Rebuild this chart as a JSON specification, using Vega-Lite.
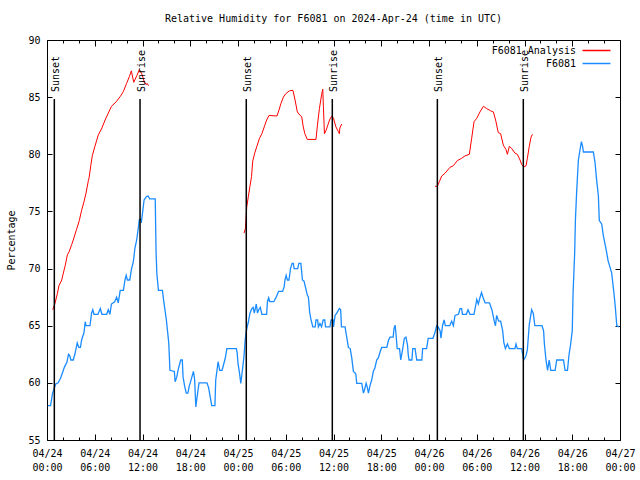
{
  "$schema": "https://vega.github.io/schema/vega-lite/v6.json",
  "width": 573,
  "height": 400,
  "autosize": {"type": "none"},
  "padding": {"left": 47, "top": 40, "right": 20, "bottom": 40},
  "background": "white",
  "config": {
    "font": "DejaVu Sans Mono",
    "view": {"stroke": "black", "strokeWidth": 1},
    "axis": {"grid": false, "domain": false, "tickColor": "black", "tickWidth": 1, "labelColor": "black", "labelFont": "DejaVu Sans Mono", "labelFontSize": 10, "titleFont": "DejaVu Sans Mono", "titleFontSize": 10, "titleFontWeight": "normal", "titleColor": "black"}
  },
  "title": {"text": "Relative Humidity for F6081 on 2024-Apr-24 (time in UTC)", "font": "DejaVu Sans Mono", "fontSize": 10, "fontWeight": "normal", "color": "black", "anchor": "middle", "offset": 11},
  "datasets": {
    "obs": [
      {"series":"F6081","hour":0.1,"rh":58},{"series":"F6081","hour":0.45,"rh":58},{"series":"F6081","hour":0.7,"rh":59.1},{"series":"F6081","hour":0.85,"rh":59.4},{"series":"F6081","hour":1.1,"rh":59.9},{"series":"F6081","hour":1.4,"rh":60},{"series":"F6081","hour":1.7,"rh":60.4},{"series":"F6081","hour":2.0,"rh":61},{"series":"F6081","hour":2.2,"rh":61.4},{"series":"F6081","hour":2.5,"rh":61.8},{"series":"F6081","hour":2.7,"rh":62.5},{"series":"F6081","hour":2.85,"rh":62.4},{"series":"F6081","hour":3.0,"rh":62},{"series":"F6081","hour":3.3,"rh":62},{"series":"F6081","hour":3.5,"rh":62.5},{"series":"F6081","hour":3.8,"rh":63.5},{"series":"F6081","hour":4.0,"rh":63.1},{"series":"F6081","hour":4.2,"rh":63.1},{"series":"F6081","hour":4.35,"rh":63.75},{"series":"F6081","hour":4.65,"rh":64.4},{"series":"F6081","hour":4.8,"rh":65.35},{"series":"F6081","hour":4.9,"rh":65},{"series":"F6081","hour":5.4,"rh":65},{"series":"F6081","hour":5.6,"rh":66.1},{"series":"F6081","hour":5.75,"rh":66.4},{"series":"F6081","hour":5.9,"rh":66},{"series":"F6081","hour":6.4,"rh":66},{"series":"F6081","hour":6.7,"rh":66.5},{"series":"F6081","hour":6.9,"rh":66},{"series":"F6081","hour":7.5,"rh":66},{"series":"F6081","hour":7.7,"rh":66.4},{"series":"F6081","hour":7.9,"rh":66},{"series":"F6081","hour":8.1,"rh":66.9},{"series":"F6081","hour":8.5,"rh":67.1},{"series":"F6081","hour":8.75,"rh":67.5},{"series":"F6081","hour":8.95,"rh":67},{"series":"F6081","hour":9.2,"rh":68.1},{"series":"F6081","hour":9.6,"rh":68.1},{"series":"F6081","hour":9.8,"rh":69},{"series":"F6081","hour":9.95,"rh":69.4},{"series":"F6081","hour":10.1,"rh":69},{"series":"F6081","hour":10.4,"rh":69},{"series":"F6081","hour":10.6,"rh":69.9},{"series":"F6081","hour":10.85,"rh":70.6},{"series":"F6081","hour":11.05,"rh":71.8},{"series":"F6081","hour":11.27,"rh":72.5},{"series":"F6081","hour":11.5,"rh":73.7},{"series":"F6081","hour":11.6,"rh":74.3},{"series":"F6081","hour":11.8,"rh":74.3},{"series":"F6081","hour":11.85,"rh":74},{"series":"F6081","hour":12.2,"rh":76},{"series":"F6081","hour":12.5,"rh":76.3},{"series":"F6081","hour":12.7,"rh":76.35},{"series":"F6081","hour":12.9,"rh":76.1},{"series":"F6081","hour":13.6,"rh":76.1},{"series":"F6081","hour":13.7,"rh":71.6},{"series":"F6081","hour":13.8,"rh":69.6},{"series":"F6081","hour":14.0,"rh":68.1},{"series":"F6081","hour":14.5,"rh":68.1},{"series":"F6081","hour":14.65,"rh":67.25},{"series":"F6081","hour":14.8,"rh":66.5},{"series":"F6081","hour":15.0,"rh":65.5},{"series":"F6081","hour":15.15,"rh":64.5},{"series":"F6081","hour":15.3,"rh":63.5},{"series":"F6081","hour":15.45,"rh":61.1},{"series":"F6081","hour":16.0,"rh":61},{"series":"F6081","hour":16.1,"rh":60.1},{"series":"F6081","hour":16.3,"rh":60.5},{"series":"F6081","hour":16.5,"rh":61.2},{"series":"F6081","hour":16.8,"rh":62},{"series":"F6081","hour":17.0,"rh":62},{"series":"F6081","hour":17.1,"rh":60.5},{"series":"F6081","hour":17.3,"rh":59.7},{"series":"F6081","hour":17.5,"rh":59.1},{"series":"F6081","hour":17.7,"rh":59.1},{"series":"F6081","hour":17.9,"rh":59.8},{"series":"F6081","hour":18.0,"rh":60},{"series":"F6081","hour":18.4,"rh":61},{"series":"F6081","hour":18.55,"rh":60.3},{"series":"F6081","hour":18.7,"rh":57.9},{"series":"F6081","hour":18.85,"rh":58.7},{"series":"F6081","hour":19.1,"rh":60},{"series":"F6081","hour":20.1,"rh":60},{"series":"F6081","hour":20.3,"rh":59.6},{"series":"F6081","hour":20.5,"rh":58.8},{"series":"F6081","hour":20.7,"rh":58},{"series":"F6081","hour":21.1,"rh":58},{"series":"F6081","hour":21.2,"rh":60.25},{"series":"F6081","hour":21.5,"rh":61.85},{"series":"F6081","hour":21.7,"rh":61.1},{"series":"F6081","hour":22.0,"rh":61.1},{"series":"F6081","hour":22.4,"rh":62.15},{"series":"F6081","hour":22.6,"rh":63},{"series":"F6081","hour":23.8,"rh":63},{"series":"F6081","hour":23.9,"rh":62.6},{"series":"F6081","hour":24.0,"rh":61.7},{"series":"F6081","hour":24.2,"rh":60.8},{"series":"F6081","hour":24.35,"rh":59.96},{"series":"F6081","hour":24.5,"rh":60.8},{"series":"F6081","hour":24.6,"rh":61.4},{"series":"F6081","hour":24.75,"rh":62.3},{"series":"F6081","hour":24.9,"rh":63.75},{"series":"F6081","hour":25.0,"rh":64.3},{"series":"F6081","hour":25.15,"rh":64.9},{"series":"F6081","hour":25.3,"rh":65.3},{"series":"F6081","hour":25.5,"rh":66.1},{"series":"F6081","hour":25.7,"rh":66.45},{"series":"F6081","hour":25.9,"rh":66.6},{"series":"F6081","hour":26.05,"rh":66.1},{"series":"F6081","hour":26.3,"rh":66.9},{"series":"F6081","hour":26.45,"rh":66.1},{"series":"F6081","hour":26.6,"rh":66.4},{"series":"F6081","hour":26.8,"rh":66.6},{"series":"F6081","hour":27.0,"rh":66},{"series":"F6081","hour":27.6,"rh":66},{"series":"F6081","hour":27.7,"rh":67.1},{"series":"F6081","hour":27.85,"rh":67.45},{"series":"F6081","hour":28.0,"rh":67.1},{"series":"F6081","hour":28.5,"rh":67.1},{"series":"F6081","hour":28.8,"rh":67.5},{"series":"F6081","hour":29.1,"rh":68},{"series":"F6081","hour":29.6,"rh":68},{"series":"F6081","hour":29.8,"rh":68.4},{"series":"F6081","hour":29.9,"rh":69},{"series":"F6081","hour":30.05,"rh":69.4},{"series":"F6081","hour":30.2,"rh":69},{"series":"F6081","hour":30.4,"rh":69},{"series":"F6081","hour":30.6,"rh":70},{"series":"F6081","hour":30.8,"rh":70.45},{"series":"F6081","hour":30.95,"rh":70.45},{"series":"F6081","hour":31.05,"rh":70},{"series":"F6081","hour":31.5,"rh":70},{"series":"F6081","hour":31.65,"rh":70.45},{"series":"F6081","hour":31.9,"rh":70.45},{"series":"F6081","hour":32.1,"rh":69},{"series":"F6081","hour":32.3,"rh":68.9},{"series":"F6081","hour":32.5,"rh":68.3},{"series":"F6081","hour":32.7,"rh":67.7},{"series":"F6081","hour":32.85,"rh":67.5},{"series":"F6081","hour":33.0,"rh":66.2},{"series":"F6081","hour":33.15,"rh":65.6},{"series":"F6081","hour":33.4,"rh":64.9},{"series":"F6081","hour":33.7,"rh":64.9},{"series":"F6081","hour":33.8,"rh":65.5},{"series":"F6081","hour":34.0,"rh":65.5},{"series":"F6081","hour":34.1,"rh":64.9},{"series":"F6081","hour":34.3,"rh":65.2},{"series":"F6081","hour":34.5,"rh":64.9},{"series":"F6081","hour":34.7,"rh":65.5},{"series":"F6081","hour":34.9,"rh":65.5},{"series":"F6081","hour":35.0,"rh":64.9},{"series":"F6081","hour":35.55,"rh":64.9},{"series":"F6081","hour":35.7,"rh":65.5},{"series":"F6081","hour":35.95,"rh":65.5},{"series":"F6081","hour":36.0,"rh":64.9},{"series":"F6081","hour":36.2,"rh":65.9},{"series":"F6081","hour":36.4,"rh":66.1},{"series":"F6081","hour":36.74,"rh":66.5},{"series":"F6081","hour":36.9,"rh":66.4},{"series":"F6081","hour":37.0,"rh":64.9},{"series":"F6081","hour":37.45,"rh":64.9},{"series":"F6081","hour":37.66,"rh":64},{"series":"F6081","hour":37.87,"rh":63.1},{"series":"F6081","hour":38.1,"rh":63},{"series":"F6081","hour":38.29,"rh":62.2},{"series":"F6081","hour":38.5,"rh":61},{"series":"F6081","hour":38.8,"rh":60.8},{"series":"F6081","hour":38.92,"rh":59.96},{"series":"F6081","hour":39.55,"rh":59.96},{"series":"F6081","hour":39.76,"rh":59.1},{"series":"F6081","hour":39.9,"rh":59.4},{"series":"F6081","hour":40.1,"rh":59.96},{"series":"F6081","hour":40.25,"rh":59.6},{"series":"F6081","hour":40.39,"rh":59.1},{"series":"F6081","hour":40.6,"rh":59.8},{"series":"F6081","hour":40.8,"rh":60.25},{"series":"F6081","hour":41.0,"rh":61},{"series":"F6081","hour":41.2,"rh":61.3},{"series":"F6081","hour":41.43,"rh":62},{"series":"F6081","hour":41.64,"rh":62.2},{"series":"F6081","hour":41.85,"rh":62.7},{"series":"F6081","hour":42.06,"rh":63.1},{"series":"F6081","hour":42.7,"rh":63.1},{"series":"F6081","hour":42.9,"rh":63.7},{"series":"F6081","hour":43.1,"rh":64},{"series":"F6081","hour":43.5,"rh":64},{"series":"F6081","hour":43.6,"rh":64.75},{"series":"F6081","hour":43.74,"rh":65.05},{"series":"F6081","hour":43.85,"rh":64.3},{"series":"F6081","hour":44.0,"rh":63},{"series":"F6081","hour":44.3,"rh":63},{"series":"F6081","hour":44.45,"rh":62},{"series":"F6081","hour":44.7,"rh":63},{"series":"F6081","hour":44.9,"rh":63.9},{"series":"F6081","hour":45.1,"rh":64},{"series":"F6081","hour":45.3,"rh":63.3},{"series":"F6081","hour":45.4,"rh":62.4},{"series":"F6081","hour":45.5,"rh":62},{"series":"F6081","hour":45.85,"rh":62},{"series":"F6081","hour":45.96,"rh":63},{"series":"F6081","hour":46.25,"rh":63},{"series":"F6081","hour":46.46,"rh":62},{"series":"F6081","hour":47.1,"rh":62},{"series":"F6081","hour":47.2,"rh":63},{"series":"F6081","hour":47.7,"rh":63},{"series":"F6081","hour":47.9,"rh":63.9},{"series":"F6081","hour":48.5,"rh":63.9},{"series":"F6081","hour":48.75,"rh":64.4},{"series":"F6081","hour":48.96,"rh":65},{"series":"F6081","hour":49.15,"rh":64.9},{"series":"F6081","hour":49.4,"rh":64.55},{"series":"F6081","hour":49.5,"rh":63.9},{"series":"F6081","hour":49.7,"rh":65},{"series":"F6081","hour":49.9,"rh":65.5},{"series":"F6081","hour":50.05,"rh":65},{"series":"F6081","hour":50.6,"rh":65},{"series":"F6081","hour":50.85,"rh":65.4},{"series":"F6081","hour":51.06,"rh":65},{"series":"F6081","hour":51.27,"rh":65.9},{"series":"F6081","hour":51.7,"rh":66},{"series":"F6081","hour":51.9,"rh":66.5},{"series":"F6081","hour":52.1,"rh":66.5},{"series":"F6081","hour":52.2,"rh":66},{"series":"F6081","hour":52.7,"rh":66},{"series":"F6081","hour":52.9,"rh":66.4},{"series":"F6081","hour":53.15,"rh":66},{"series":"F6081","hour":53.65,"rh":66},{"series":"F6081","hour":53.9,"rh":66.9},{"series":"F6081","hour":54.0,"rh":67.3},{"series":"F6081","hour":54.2,"rh":66.9},{"series":"F6081","hour":54.4,"rh":67.45},{"series":"F6081","hour":54.6,"rh":67.9},{"series":"F6081","hour":54.8,"rh":67.45},{"series":"F6081","hour":55.05,"rh":67},{"series":"F6081","hour":55.6,"rh":67},{"series":"F6081","hour":55.9,"rh":66.4},{"series":"F6081","hour":56.2,"rh":65.4},{"series":"F6081","hour":56.35,"rh":65},{"series":"F6081","hour":56.5,"rh":65.9},{"series":"F6081","hour":56.75,"rh":65.4},{"series":"F6081","hour":57.0,"rh":65.4},{"series":"F6081","hour":57.26,"rh":64.55},{"series":"F6081","hour":57.4,"rh":63.55},{"series":"F6081","hour":57.6,"rh":63},{"series":"F6081","hour":57.85,"rh":63.4},{"series":"F6081","hour":58.1,"rh":63},{"series":"F6081","hour":58.8,"rh":63},{"series":"F6081","hour":58.93,"rh":63.4},{"series":"F6081","hour":59.1,"rh":63},{"series":"F6081","hour":59.65,"rh":63},{"series":"F6081","hour":59.77,"rh":62.5},{"series":"F6081","hour":59.9,"rh":62},{"series":"F6081","hour":60.2,"rh":62.4},{"series":"F6081","hour":60.36,"rh":62.9},{"series":"F6081","hour":60.6,"rh":65.1},{"series":"F6081","hour":60.9,"rh":66.4},{"series":"F6081","hour":61.1,"rh":66.1},{"series":"F6081","hour":61.3,"rh":65},{"series":"F6081","hour":62.2,"rh":65},{"series":"F6081","hour":62.4,"rh":64.55},{"series":"F6081","hour":62.5,"rh":63.4},{"series":"F6081","hour":62.7,"rh":62},{"series":"F6081","hour":62.9,"rh":61.1},{"series":"F6081","hour":63.1,"rh":62},{"series":"F6081","hour":63.3,"rh":61.1},{"series":"F6081","hour":63.85,"rh":61.1},{"series":"F6081","hour":64.05,"rh":62},{"series":"F6081","hour":64.9,"rh":62},{"series":"F6081","hour":65.1,"rh":61.1},{"series":"F6081","hour":65.4,"rh":61.1},{"series":"F6081","hour":65.6,"rh":62.5},{"series":"F6081","hour":65.8,"rh":63.4},{"series":"F6081","hour":66.0,"rh":64.55},{"series":"F6081","hour":66.1,"rh":67.8},{"series":"F6081","hour":66.3,"rh":71.3},{"series":"F6081","hour":66.4,"rh":74.3},{"series":"F6081","hour":66.56,"rh":76.8},{"series":"F6081","hour":66.77,"rh":79.5},{"series":"F6081","hour":66.98,"rh":80.4},{"series":"F6081","hour":67.15,"rh":81.1},{"series":"F6081","hour":67.3,"rh":80.7},{"series":"F6081","hour":67.4,"rh":80.2},{"series":"F6081","hour":68.65,"rh":80.2},{"series":"F6081","hour":68.86,"rh":79.3},{"series":"F6081","hour":69.07,"rh":77.7},{"series":"F6081","hour":69.28,"rh":76.4},{"series":"F6081","hour":69.4,"rh":74.2},{"series":"F6081","hour":69.7,"rh":73.9},{"series":"F6081","hour":69.9,"rh":72.9},{"series":"F6081","hour":70.1,"rh":72.2},{"series":"F6081","hour":70.3,"rh":71.5},{"series":"F6081","hour":70.5,"rh":70.7},{"series":"F6081","hour":70.75,"rh":70.1},{"series":"F6081","hour":70.96,"rh":69.6},{"series":"F6081","hour":71.1,"rh":68.7},{"series":"F6081","hour":71.25,"rh":67.8},{"series":"F6081","hour":71.4,"rh":66.7},{"series":"F6081","hour":71.6,"rh":65},{"series":"F6081","hour":71.9,"rh":64.9}
    ],
    "ana": [
      {"series":"F6081 Analysis","seg":1,"hour":0.72,"rh":66.4},{"series":"F6081 Analysis","seg":1,"hour":0.98,"rh":66.9},{"series":"F6081 Analysis","seg":1,"hour":1.3,"rh":67.8},{"series":"F6081 Analysis","seg":1,"hour":1.5,"rh":68.5},{"series":"F6081 Analysis","seg":1,"hour":1.85,"rh":69},{"series":"F6081 Analysis","seg":1,"hour":2.05,"rh":69.6},{"series":"F6081 Analysis","seg":1,"hour":2.3,"rh":70.3},{"series":"F6081 Analysis","seg":1,"hour":2.56,"rh":71.2},{"series":"F6081 Analysis","seg":1,"hour":2.8,"rh":71.5},{"series":"F6081 Analysis","seg":1,"hour":3.1,"rh":72.1},{"series":"F6081 Analysis","seg":1,"hour":3.3,"rh":72.5},{"series":"F6081 Analysis","seg":1,"hour":3.7,"rh":73.4},{"series":"F6081 Analysis","seg":1,"hour":4.06,"rh":74.2},{"series":"F6081 Analysis","seg":1,"hour":4.35,"rh":75.1},{"series":"F6081 Analysis","seg":1,"hour":4.65,"rh":75.85},{"series":"F6081 Analysis","seg":1,"hour":4.9,"rh":76.6},{"series":"F6081 Analysis","seg":1,"hour":5.2,"rh":77.7},{"series":"F6081 Analysis","seg":1,"hour":5.3,"rh":78},{"series":"F6081 Analysis","seg":1,"hour":5.5,"rh":79},{"series":"F6081 Analysis","seg":1,"hour":5.7,"rh":79.9},{"series":"F6081 Analysis","seg":1,"hour":6.0,"rh":80.65},{"series":"F6081 Analysis","seg":1,"hour":6.45,"rh":81.7},{"series":"F6081 Analysis","seg":1,"hour":6.9,"rh":82.3},{"series":"F6081 Analysis","seg":1,"hour":7.3,"rh":83},{"series":"F6081 Analysis","seg":1,"hour":7.7,"rh":83.6},{"series":"F6081 Analysis","seg":1,"hour":8.1,"rh":84.2},{"series":"F6081 Analysis","seg":1,"hour":8.7,"rh":84.6},{"series":"F6081 Analysis","seg":1,"hour":9.2,"rh":85.05},{"series":"F6081 Analysis","seg":1,"hour":9.6,"rh":85.5},{"series":"F6081 Analysis","seg":1,"hour":10.0,"rh":86.2},{"series":"F6081 Analysis","seg":1,"hour":10.35,"rh":86.8},{"series":"F6081 Analysis","seg":1,"hour":10.6,"rh":87.3},{"series":"F6081 Analysis","seg":1,"hour":10.9,"rh":86.3},{"series":"F6081 Analysis","seg":1,"hour":11.3,"rh":86.9},{"series":"F6081 Analysis","seg":1,"hour":11.6,"rh":87.4},{"series":"F6081 Analysis","seg":1,"hour":11.9,"rh":87.05},{"series":"F6081 Analysis","seg":1,"hour":12.2,"rh":86.4},{"series":"F6081 Analysis","seg":1,"hour":12.44,"rh":86.1},{"series":"F6081 Analysis","seg":1,"hour":12.6,"rh":86.2},{"series":"F6081 Analysis","seg":1,"hour":12.75,"rh":86},
      {"series":"F6081 Analysis","seg":2,"hour":24.76,"rh":73.1},{"series":"F6081 Analysis","seg":2,"hour":24.93,"rh":73.5},{"series":"F6081 Analysis","seg":2,"hour":25.1,"rh":75.4},{"series":"F6081 Analysis","seg":2,"hour":25.3,"rh":76.3},{"series":"F6081 Analysis","seg":2,"hour":25.5,"rh":77.2},{"series":"F6081 Analysis","seg":2,"hour":25.7,"rh":78.05},{"series":"F6081 Analysis","seg":2,"hour":25.85,"rh":79.4},{"series":"F6081 Analysis","seg":2,"hour":26.1,"rh":80.1},{"series":"F6081 Analysis","seg":2,"hour":26.35,"rh":80.65},{"series":"F6081 Analysis","seg":2,"hour":26.7,"rh":81.4},{"series":"F6081 Analysis","seg":2,"hour":27.0,"rh":81.8},{"series":"F6081 Analysis","seg":2,"hour":27.3,"rh":82.4},{"series":"F6081 Analysis","seg":2,"hour":27.6,"rh":83},{"series":"F6081 Analysis","seg":2,"hour":27.9,"rh":83.4},{"series":"F6081 Analysis","seg":2,"hour":28.9,"rh":83.35},{"series":"F6081 Analysis","seg":2,"hour":29.07,"rh":83.7},{"series":"F6081 Analysis","seg":2,"hour":29.4,"rh":84.45},{"series":"F6081 Analysis","seg":2,"hour":29.7,"rh":85},{"series":"F6081 Analysis","seg":2,"hour":30.0,"rh":85.3},{"series":"F6081 Analysis","seg":2,"hour":30.45,"rh":85.55},{"series":"F6081 Analysis","seg":2,"hour":30.9,"rh":85.6},{"series":"F6081 Analysis","seg":2,"hour":31.17,"rh":84.75},{"series":"F6081 Analysis","seg":2,"hour":31.46,"rh":83.7},{"series":"F6081 Analysis","seg":2,"hour":31.8,"rh":83.4},{"series":"F6081 Analysis","seg":2,"hour":32.0,"rh":83.3},{"series":"F6081 Analysis","seg":2,"hour":32.2,"rh":82.4},{"series":"F6081 Analysis","seg":2,"hour":32.4,"rh":81.8},{"series":"F6081 Analysis","seg":2,"hour":32.7,"rh":81.3},{"series":"F6081 Analysis","seg":2,"hour":33.8,"rh":81.3},{"series":"F6081 Analysis","seg":2,"hour":33.98,"rh":82.55},{"series":"F6081 Analysis","seg":2,"hour":34.23,"rh":84},{"series":"F6081 Analysis","seg":2,"hour":34.5,"rh":85.2},{"series":"F6081 Analysis","seg":2,"hour":34.65,"rh":85.7},{"series":"F6081 Analysis","seg":2,"hour":34.73,"rh":84.2},{"series":"F6081 Analysis","seg":2,"hour":34.86,"rh":81.8},{"series":"F6081 Analysis","seg":2,"hour":35.07,"rh":82.1},{"series":"F6081 Analysis","seg":2,"hour":35.5,"rh":83},{"series":"F6081 Analysis","seg":2,"hour":35.78,"rh":83.35},{"series":"F6081 Analysis","seg":2,"hour":36.0,"rh":83.15},{"series":"F6081 Analysis","seg":2,"hour":36.3,"rh":82.4},{"series":"F6081 Analysis","seg":2,"hour":36.6,"rh":82},{"series":"F6081 Analysis","seg":2,"hour":36.74,"rh":81.8},{"series":"F6081 Analysis","seg":2,"hour":36.8,"rh":82.3},{"series":"F6081 Analysis","seg":2,"hour":37.03,"rh":82.65},
      {"series":"F6081 Analysis","seg":3,"hour":48.76,"rh":77.2},{"series":"F6081 Analysis","seg":3,"hour":49.05,"rh":77.2},{"series":"F6081 Analysis","seg":3,"hour":49.3,"rh":77.6},{"series":"F6081 Analysis","seg":3,"hour":49.6,"rh":78.1},{"series":"F6081 Analysis","seg":3,"hour":50.0,"rh":78.33},{"series":"F6081 Analysis","seg":3,"hour":50.64,"rh":78.86},{"series":"F6081 Analysis","seg":3,"hour":51.06,"rh":79},{"series":"F6081 Analysis","seg":3,"hour":51.56,"rh":79.45},{"series":"F6081 Analysis","seg":3,"hour":52.1,"rh":79.65},{"series":"F6081 Analysis","seg":3,"hour":52.5,"rh":79.85},{"series":"F6081 Analysis","seg":3,"hour":53.07,"rh":80},{"series":"F6081 Analysis","seg":3,"hour":53.36,"rh":81.4},{"series":"F6081 Analysis","seg":3,"hour":53.66,"rh":82.85},{"series":"F6081 Analysis","seg":3,"hour":54.0,"rh":83.15},{"series":"F6081 Analysis","seg":3,"hour":54.4,"rh":83.7},{"series":"F6081 Analysis","seg":3,"hour":54.83,"rh":84.2},{"series":"F6081 Analysis","seg":3,"hour":55.25,"rh":84},{"series":"F6081 Analysis","seg":3,"hour":55.75,"rh":83.8},{"series":"F6081 Analysis","seg":3,"hour":56.1,"rh":83.7},{"series":"F6081 Analysis","seg":3,"hour":56.42,"rh":82.85},{"series":"F6081 Analysis","seg":3,"hour":56.7,"rh":81.9},{"series":"F6081 Analysis","seg":3,"hour":57.0,"rh":81.8},{"series":"F6081 Analysis","seg":3,"hour":57.34,"rh":80.8},{"series":"F6081 Analysis","seg":3,"hour":57.68,"rh":80.4},{"series":"F6081 Analysis","seg":3,"hour":57.85,"rh":80},{"series":"F6081 Analysis","seg":3,"hour":58.1,"rh":80.7},{"series":"F6081 Analysis","seg":3,"hour":58.4,"rh":80.5},{"series":"F6081 Analysis","seg":3,"hour":58.8,"rh":80.1},{"series":"F6081 Analysis","seg":3,"hour":59.1,"rh":80},{"series":"F6081 Analysis","seg":3,"hour":59.44,"rh":79.5},{"series":"F6081 Analysis","seg":3,"hour":59.65,"rh":79.1},{"series":"F6081 Analysis","seg":3,"hour":59.94,"rh":78.9},{"series":"F6081 Analysis","seg":3,"hour":60.2,"rh":79},{"series":"F6081 Analysis","seg":3,"hour":60.36,"rh":79.65},{"series":"F6081 Analysis","seg":3,"hour":60.6,"rh":80.7},{"series":"F6081 Analysis","seg":3,"hour":60.82,"rh":81.5},{"series":"F6081 Analysis","seg":3,"hour":61.0,"rh":81.75}
    ],
    "sun": [
      {"event":"Sunset","hour":0.92},{"event":"Sunrise","hour":11.69},{"event":"Sunset","hour":25.04},{"event":"Sunrise","hour":35.85},{"event":"Sunset","hour":49.05},{"event":"Sunrise","hour":59.85}
    ]
  },
  "layer": [
    {
      "data": {"name": "obs"},
      "mark": {"type": "line", "strokeWidth": 1.3, "clip": true},
      "encoding": {
        "x": {"field": "hour", "type": "quantitative", "scale": {"domain": [0, 72], "nice": false, "zero": false},
          "axis": {"orient": "bottom", "title": null, "values": [0,6,12,18,24,30,36,42,48,54,60,66,72], "tickSize": -6, "labelPadding": 14, "labelFlush": false, "labelOverlap": false, "labelBound": false, "labelLineHeight": 14,
            "labelExpr": "['04/' + (24 + floor(datum.value / 24)), (datum.value % 24 < 10 ? '0' : '') + (datum.value % 24) + ':00']"}},
        "y": {"field": "rh", "type": "quantitative", "scale": {"domain": [55, 90], "nice": false, "zero": false},
          "axis": {"orient": "left", "title": "Percentage", "titlePadding": 11, "values": [55,60,65,70,75,80,85,90], "tickSize": -5, "labelPadding": 12, "labelFlush": false, "labelOverlap": false}},
        "color": {"field": "series", "type": "nominal",
          "scale": {"domain": ["F6081 Analysis", "F6081"], "range": ["#ff0000", "#1a8cff"]},
          "legend": {"orient": "none", "legendX": 542, "legendY": 3, "title": null, "padding": 0, "symbolType": "M-2.15,0H2.15", "symbolSize": 169, "symbolStrokeWidth": 1.5, "symbolFillColor": "transparent", "rowPadding": 0, "labelAlign": "right", "labelOffset": -28, "labelFont": "DejaVu Sans Mono", "labelFontSize": 10, "labelColor": "black", "labelLimit": 0}}
      }
    },
    {
      "data": {"name": "ana"},
      "mark": {"type": "line", "strokeWidth": 1, "clip": true},
      "encoding": {
        "x": {"field": "hour", "type": "quantitative", "scale": {"domain": [0, 72], "nice": false, "zero": false},
          "axis": {"orient": "top", "title": null, "labels": false, "values": [0,6,12,18,24,30,36,42,48,54,60,66,72], "tickSize": -6}},
        "y": {"field": "rh", "type": "quantitative", "scale": {"domain": [55, 90], "nice": false, "zero": false},
          "axis": {"orient": "right", "title": null, "labels": false, "values": [55,60,65,70,75,80,85,90], "tickSize": -5}},
        "color": {"field": "series", "type": "nominal", "scale": {"domain": ["F6081 Analysis", "F6081"], "range": ["#ff0000", "#1a8cff"]}},
        "detail": {"field": "seg", "type": "nominal"}
      }
    },
    {
      "data": {"name": "sun"},
      "mark": {"type": "rule", "color": "black", "strokeWidth": 1.5},
      "encoding": {
        "x": {"field": "hour", "type": "quantitative", "scale": {"domain": [0, 72], "nice": false, "zero": false},
          "axis": {"orient": "bottom", "title": null, "labels": false, "values": [2,4,8,10,14,16,20,22,26,28,32,34,38,40,44,46,50,52,56,58,62,64,68,70], "tickSize": -3}},
        "y": {"datum": 84.83, "type": "quantitative", "scale": {"domain": [55, 90], "nice": false, "zero": false}, "axis": null},
        "y2": {"datum": 55}
      }
    },
    {
      "data": {"name": "sun"},
      "mark": {"type": "text", "angle": 270, "align": "left", "baseline": "middle", "dy": 1.5, "font": "DejaVu Sans Mono", "fontSize": 10, "color": "black"},
      "encoding": {
        "x": {"field": "hour", "type": "quantitative", "scale": {"domain": [0, 72], "nice": false, "zero": false},
          "axis": {"orient": "top", "title": null, "labels": false, "values": [2,4,8,10,14,16,20,22,26,28,32,34,38,40,44,46,50,52,56,58,62,64,68,70], "tickSize": -3}},
        "y": {"datum": 85.45, "type": "quantitative", "scale": {"domain": [55, 90], "nice": false, "zero": false}, "axis": null},
        "text": {"field": "event", "type": "nominal"}
      }
    }
  ],
  "resolve": {"axis": {"x": "independent", "y": "independent"}}
}
